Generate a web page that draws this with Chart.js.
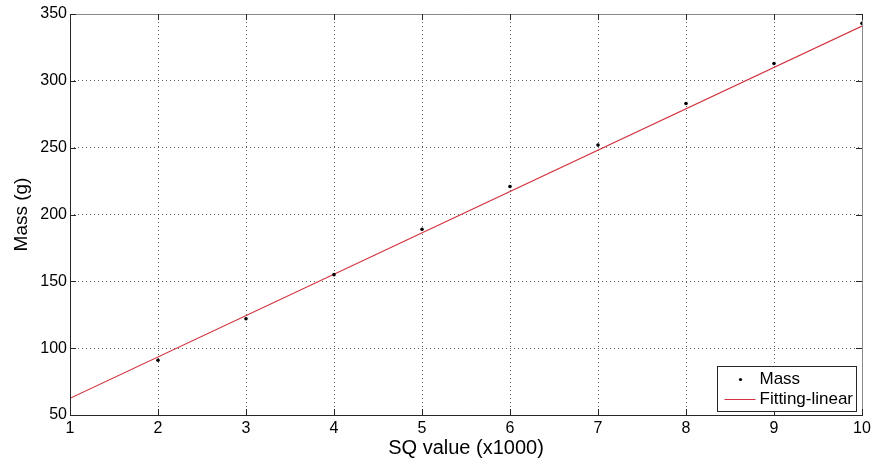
<!DOCTYPE html>
<html>
<head>
<meta charset="utf-8">
<script src="https://cdn.jsdelivr.net/npm/chart.js@4/dist/chart.umd.min.js"></script>
<style>
    html, body { margin: 0; padding: 0; background: #fff; }
    #wrap { width: 872px; height: 459px; position: relative; }
</style>
</head>
<body>
<div id="wrap"><canvas id="massChart"></canvas></div>
<script>
// Measured samples
const sqValues = [2, 3, 4, 5, 6, 7, 8, 9, 10];
const massValues = [91, 122, 155, 189, 221, 252, 283, 313, 343];

// Linear fit, evaluated at the axis ends
const fitX = [1, 10];
const fitY = [62.5, 341];

const xTicks = [1, 2, 3, 4, 5, 6, 7, 8, 9, 10];
const yTicks = [50, 100, 150, 200, 250, 300, 350];

const fontFamily = "'Liberation Sans', Arial, Helvetica, sans-serif";
const fitColor = 'rgb(210, 50, 62)';

// Box, inward tick marks and the in-plot legend
const axesBoxPlugin = {
    id: 'axesBox',
    afterDraw(chart) {
        const { ctx, chartArea: a, scales } = chart;
        ctx.save();
        ctx.setLineDash([]);
        ctx.lineWidth = 1;

        // top and right edges are lighter
        ctx.strokeStyle = '#8a8a8a';
        ctx.beginPath();
        ctx.moveTo(a.left, a.top + 0.5);
        ctx.lineTo(a.right + 0.5, a.top + 0.5);
        ctx.lineTo(a.right + 0.5, a.bottom);
        ctx.stroke();

        ctx.strokeStyle = '#262626';
        ctx.beginPath();
        ctx.moveTo(a.left + 0.5, a.top);
        ctx.lineTo(a.left + 0.5, a.bottom + 0.5);
        ctx.lineTo(a.right + 1, a.bottom + 0.5);
        ctx.stroke();

        // inward ticks
        const len = 6;
        ctx.beginPath();
        xTicks.forEach(v => {
            const x = Math.round(scales.x.getPixelForValue(v)) + 0.5;
            ctx.moveTo(x, a.bottom);
            ctx.lineTo(x, a.bottom - len);
            ctx.moveTo(x, a.top);
            ctx.lineTo(x, a.top + len);
        });
        yTicks.forEach(v => {
            const y = Math.round(scales.y.getPixelForValue(v)) + 0.5;
            ctx.moveTo(a.left, y);
            ctx.lineTo(a.left + len, y);
            ctx.moveTo(a.right, y);
            ctx.lineTo(a.right - len, y);
        });
        ctx.stroke();

        // legend
        const w = 139, h = 45;
        const lx = Math.round(a.right - 6 - w) + 0.5;
        const ly = Math.round(a.bottom - 4 - h) + 0.5;
        ctx.fillStyle = '#fff';
        ctx.fillRect(lx, ly, w, h);
        ctx.strokeStyle = '#262626';
        ctx.strokeRect(lx, ly, w, h);

        ctx.fillStyle = '#000';
        ctx.beginPath();
        ctx.arc(lx + 23, ly + 13, 1.6, 0, Math.PI * 2);
        ctx.fill();

        ctx.strokeStyle = fitColor;
        ctx.beginPath();
        ctx.moveTo(lx + 7, ly + 33);
        ctx.lineTo(lx + 38, ly + 33);
        ctx.stroke();

        ctx.font = '17px ' + fontFamily;
        ctx.textBaseline = 'middle';
        ctx.fillStyle = '#000';
        ctx.fillText('Mass', lx + 42, ly + 13);
        ctx.fillText('Fitting-linear', lx + 42, ly + 33);
        ctx.restore();
    }
};

const gridStyle = {
    color: 'rgba(40, 40, 40, 0.75)',
    drawTicks: false,
    lineWidth: 1
};

new Chart(document.getElementById('massChart'), {
    type: 'scatter',
    data: {
        datasets: [
            {
                label: 'Mass',
                data: sqValues.map((x, i) => ({ x, y: massValues[i] })),
                pointRadius: 1.8,
                pointBackgroundColor: '#000',
                pointBorderWidth: 0,
                showLine: false
            },
            {
                label: 'Fitting-linear',
                data: fitX.map((x, i) => ({ x, y: fitY[i] })),
                showLine: true,
                borderColor: fitColor,
                borderWidth: 1.2,
                pointRadius: 0
            }
        ]
    },
    options: {
        responsive: true,
        maintainAspectRatio: false,
        animation: false,
        layout: { padding: { top: 14, right: 10, left: 0, bottom: 0 } },
        plugins: {
            legend: { display: false },
            tooltip: { enabled: false }
        },
        scales: {
            x: {
                type: 'linear',
                min: 1,
                max: 10,
                afterBuildTicks: axis => { axis.ticks = xTicks.map(v => ({ value: v })); },
                afterFit: axis => {
                    axis.height = 44;
                    axis.paddingLeft = 0;
                    axis.paddingRight = 0;
                },
                grid: gridStyle,
                border: { display: false, dash: [1, 3] },
                ticks: {
                    color: '#000',
                    padding: 4,
                    font: { family: fontFamily, size: 16 }
                },
                title: {
                    display: true,
                    text: 'SQ value (x1000)',
                    color: '#000',
                    padding: { top: 0, bottom: -1 },
                    font: { family: fontFamily, size: 20 }
                }
            },
            y: {
                type: 'linear',
                min: 50,
                max: 350,
                afterBuildTicks: axis => { axis.ticks = yTicks.map(v => ({ value: v })); },
                afterFit: axis => { axis.width = 70; },
                grid: gridStyle,
                border: { display: false, dash: [1, 3] },
                ticks: {
                    color: '#000',
                    padding: 3,
                    font: { family: fontFamily, size: 16 }
                },
                title: {
                    display: true,
                    text: 'Mass (g)',
                    color: '#000',
                    padding: { top: 10, bottom: 0 },
                    font: { family: fontFamily, size: 19 }
                }
            }
        }
    },
    plugins: [axesBoxPlugin]
});
</script>
</body>
</html>
